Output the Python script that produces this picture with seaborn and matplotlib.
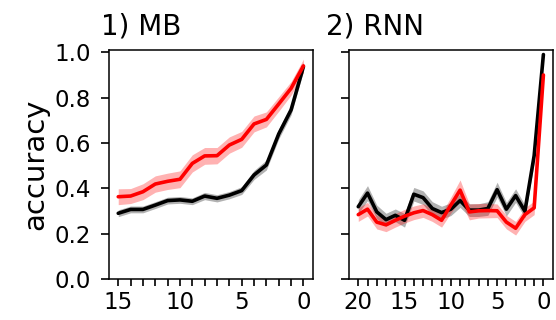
import numpy as np
import pandas as pd
from matplotlib import pyplot as plt
import seaborn as sns

# steps before the end of the sequence
mb_steps = list(range(15, -1, -1))
rnn_steps = list(range(20, -1, -1))

# panel 1) MB
mb_red = [0.363, 0.366, 0.385, 0.419, 0.431, 0.440, 0.510, 0.543, 0.544, 0.591,
          0.616, 0.684, 0.704, 0.772, 0.841, 0.940]
mb_red_err = [0.035, 0.033, 0.035, 0.036, 0.036, 0.037, 0.038, 0.037, 0.036, 0.036,
              0.035, 0.035, 0.033, 0.032, 0.030, 0.030]
mb_black = [0.290, 0.307, 0.307, 0.326, 0.346, 0.349, 0.343, 0.366, 0.356, 0.370,
            0.390, 0.459, 0.503, 0.640, 0.746, 0.937]
mb_black_err = [0.015, 0.015, 0.015, 0.015, 0.015, 0.015, 0.015, 0.016, 0.016, 0.016,
                0.017, 0.020, 0.022, 0.022, 0.022, 0.020]

# panel 2) RNN
rnn_black = [0.319, 0.379, 0.296, 0.262, 0.281, 0.259, 0.374, 0.359, 0.311, 0.293,
             0.308, 0.346, 0.304, 0.304, 0.311, 0.394, 0.308, 0.368, 0.299, 0.544, 0.990]
rnn_black_err = [0.030, 0.033, 0.030, 0.028, 0.028, 0.030, 0.030, 0.030, 0.030, 0.028,
                 0.028, 0.030, 0.028, 0.028, 0.030, 0.033, 0.030, 0.030, 0.028, 0.030, 0.010]
rnn_red = [0.284, 0.308, 0.251, 0.239, 0.259, 0.277, 0.292, 0.302, 0.284, 0.259,
           0.326, 0.392, 0.296, 0.301, 0.302, 0.301, 0.251, 0.224, 0.284, 0.314, 0.900]
rnn_red_err = [0.030, 0.030, 0.030, 0.030, 0.030, 0.030, 0.030, 0.030, 0.030, 0.030,
               0.035, 0.045, 0.035, 0.032, 0.032, 0.030, 0.030, 0.030, 0.030, 0.030, 0.010]

sns.set_theme(style="ticks")
plt.rcParams['font.family'] = ['DejaVu Sans']
plt.rcParams['text.color'] = 'black'
plt.rcParams['axes.labelcolor'] = 'black'

fig = plt.figure(figsize=(5.56, 3.2), dpi=100)
ax1 = fig.add_axes([0.196, 0.128, 0.3664, 0.7157])
ax2 = fig.add_axes([0.6277, 0.128, 0.3663, 0.7157])


def draw_panel(ax, steps, series):
    for mean, err, line_col, band_col in series:
        df = pd.DataFrame({'step': steps, 'acc': mean})
        lo = np.array(mean) - np.array(err)
        hi = np.array(mean) + np.array(err)
        ax.fill_between(steps, lo, hi, color=band_col, alpha=0.3, linewidth=0)
        sns.lineplot(data=df, x='step', y='acc', color=line_col, linewidth=2.6, ax=ax)
    ax.set_ylim(0, 1.01)
    ax.set_yticks([0.0, 0.2, 0.4, 0.6, 0.8, 1.0])
    ax.set_xticks(steps)
    ax.set_xticklabels([str(s) if s % 5 == 0 else '' for s in steps])
    ax.margins(x=0.05)
    ax.invert_xaxis()
    ax.set_xlabel('')
    ax.tick_params(axis='both', labelsize=16.5, width=1.2, colors='black')
    ax.tick_params(axis='y', length=6, pad=7)
    ax.tick_params(axis='x', length=4.8, pad=4)
    for sp in ax.spines.values():
        sp.set_visible(True)
        sp.set_linewidth(1.1)
        sp.set_color('black')


draw_panel(ax1, mb_steps, [(mb_black, mb_black_err, 'black', 'black'),
                           (mb_red, mb_red_err, 'red', 'red')])
draw_panel(ax2, rnn_steps, [(rnn_black, rnn_black_err, 'black', 'black'),
                            (rnn_red, rnn_red_err, 'red', 'red')])

ax1.set_ylabel('accuracy', fontsize=21, color='black')
ax2.set_ylabel('')
ax2.set_yticklabels([])

fig.text(101 / 556, 1 - 34 / 320, '1) MB', fontsize=20, ha='left', va='baseline', color='black')
fig.text(326 / 556, 1 - 34 / 320, '2) RNN', fontsize=20, ha='left', va='baseline', color='black')

fig.savefig('out.png', dpi=100)
plt.close()
